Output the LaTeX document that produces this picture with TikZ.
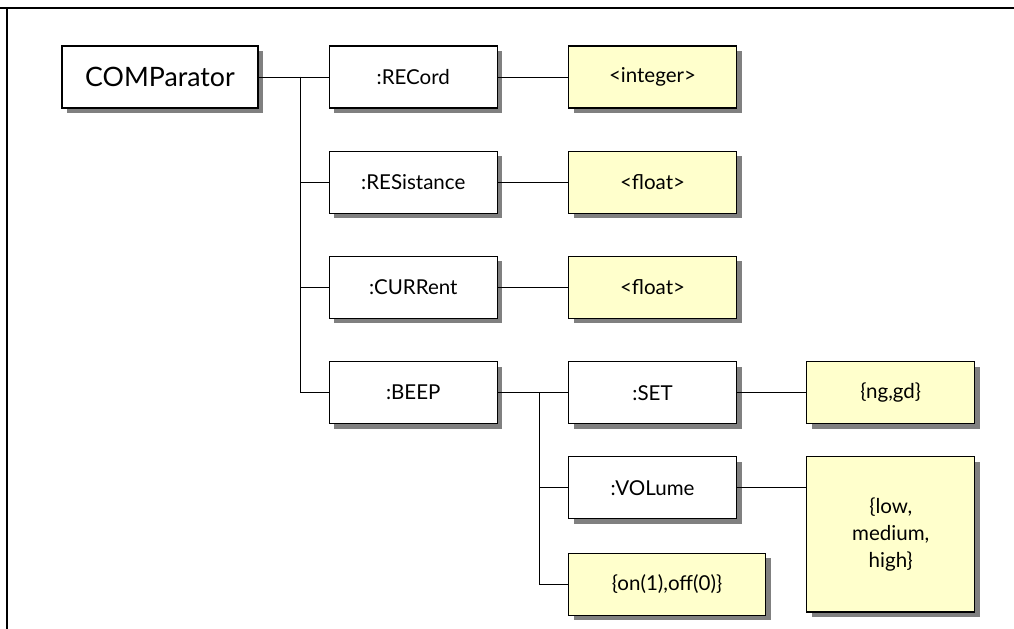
\documentclass[tikz,border=0pt]{standalone}
\usepackage{fontspec}
\setmainfont{Lato}
\usetikzlibrary{positioning, shadows}
\definecolor{ValB}{HTML}{FFFFCC}
\definecolor{ShadowA}{HTML}{808080}
\tikzset{
  box/.style={draw, line width=0.85pt, align=center, font=\fontsize{14.6}{19}\selectfont, minimum width=4.2cm, minimum height=1.55cm, inner sep=3pt,
    drop shadow={shadow xshift=0.125cm, shadow yshift=-0.125cm, fill=ShadowA, opacity=1}},
  cmd/.style={fill=white},
  val/.style={fill=ValB},
  conn/.style={line width=0.7pt},
  frame/.style={line width=1.4pt}
}

\begin{document}
\begin{tikzpicture}[x=0.025cm, y=-0.025cm, node distance=1.05cm and 1.75cm]
  \useasboundingbox (0,0) rectangle (1014,629);
  \draw[frame] (0,8.3) -- (1014,8.3);
  \draw[frame] (6.7,8.3) -- (6.7,629);

  \node[box,cmd,minimum width=4.9cm,font=\fontsize{19}{22}\selectfont] (comp) at (160,77) {COMParator};
  \node[box,cmd,right=of comp] (rec) {:RECord};
  \node[box,val,right=of rec] (recv) {<integer>};
  \node[box,cmd,below=of rec] (res) {:RESistance};
  \node[box,val,right=of res] (resv) {<float>};
  \node[box,cmd,below=of res] (cur) {:CURRent};
  \node[box,val,right=of cur] (curv) {<float>};
  \node[box,cmd,below=of cur] (beep) {:BEEP};
  \node[box,cmd,right=of beep] (set) {:SET};
  \node[box,val,right=1.725cm of set] (setv) {\{ng,gd\}};
  \node[box,cmd,below=0.8cm of set] (vol) {:VOLume};
  \node[box,val,right=1.725cm of vol.north east,anchor=north west,minimum height=3.875cm] (volv) {\{low,\\medium,\\high\}};
  \node[box,val,below=0.825cm of vol.south west,anchor=north west,minimum width=4.925cm] (onoff) {\{on(1),off(0)\}};

  \coordinate[right=1.05cm of comp.east] (j1);
  \coordinate[right=1.05cm of beep.east] (j2);

  \draw[conn] (comp) -- (rec);
  \draw[conn] (j1) |- (res);
  \draw[conn] (j1) |- (cur);
  \draw[conn] (j1) |- (beep);
  \draw[conn] (rec) -- (recv);
  \draw[conn] (res) -- (resv);
  \draw[conn] (cur) -- (curv);
  \draw[conn] (beep) -- (set);
  \draw[conn] (j2) |- (vol);
  \draw[conn] (j2) |- (onoff);
  \draw[conn] (set) -- (setv);
  \draw[conn] (vol) -- (vol -| volv.west);
\end{tikzpicture}
\end{document}
